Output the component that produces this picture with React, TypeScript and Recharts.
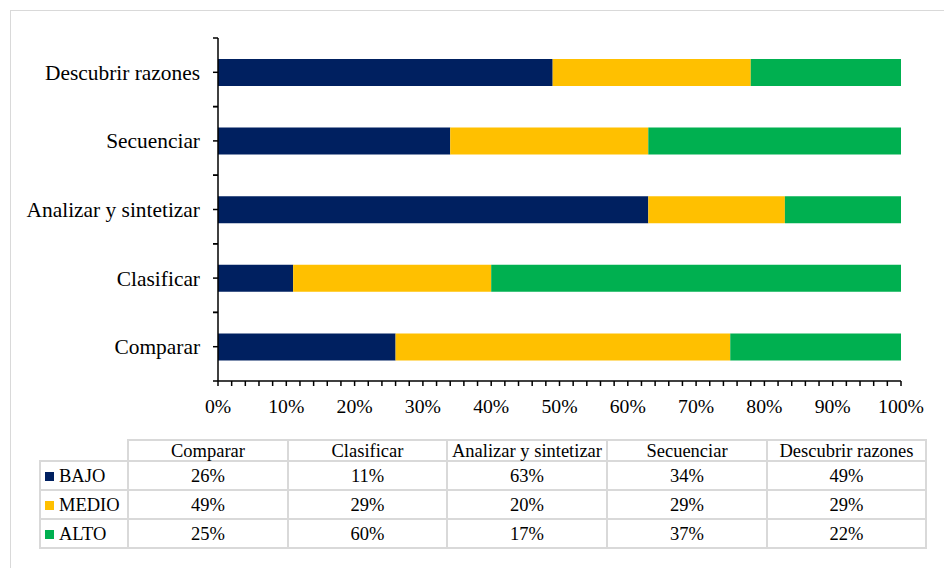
import React from "react";
import { BarChart, Bar, XAxis, YAxis } from "recharts";

const categories = ["Comparar", "Clasificar", "Analizar y sintetizar", "Secuenciar", "Descubrir razones"];
const bajo = [26, 11, 63, 34, 49];
const medio = [49, 29, 20, 29, 29];
const alto = [25, 60, 17, 37, 22];
const xTicks = [0, 2, 4, 6, 8, 10, 12, 14, 16, 18, 20, 22, 24, 26, 28, 30, 32, 34, 36, 38, 40, 42, 44, 46, 48, 50, 52, 54, 56, 58, 60, 62, 64, 66, 68, 70, 72, 74, 76, 78, 80, 82, 84, 86, 88, 90, 92, 94, 96, 98, 100];

const series = [
  { key: "BAJO", values: bajo, color: "#002060" },
  { key: "MEDIO", values: medio, color: "#FFC000" },
  { key: "ALTO", values: alto, color: "#00B050" },
];

const FONT = "'Liberation Serif', 'Times New Roman', serif";
const GRID = "#d9d9d9";
const Y_TICK = 5;
const Y_GAP = 13;

const chartData = categories.map((c, i) => ({
  name: c,
  BAJO: bajo[i],
  MEDIO: medio[i],
  ALTO: alto[i],
}));

const colWidths = [88, 160, 159, 160, 160, 159];

// category label plus the tick marks at both edges of its band
function CatTick(props: any) {
  const { x, y, payload } = props;
  const half = payload && payload.offset ? payload.offset : 34.3;
  const ax = x + Y_TICK + Y_GAP;
  return (
    <g>
      <line x1={ax - Y_TICK} x2={ax} y1={y - half} y2={y - half} stroke="#000" strokeWidth={1.5} />
      <line x1={ax - Y_TICK} x2={ax} y1={y + half} y2={y + half} stroke="#000" strokeWidth={1.5} />
      <text x={x} y={y} dy="0.355em" textAnchor="end" fill="#000" fontSize={21.4} fontFamily={FONT}>
        {payload.value}
      </text>
    </g>
  );
}

export default function App() {
  const cell: React.CSSProperties = {
    border: `2px solid ${GRID}`,
    padding: 0,
    textAlign: "center",
    lineHeight: "18px",
  };
  return (
    <div style={{ position: "absolute", left: 0, top: 0, width: 944, height: 568, background: "#fff", overflow: "hidden", fontFamily: FONT }}>
      <div style={{ position: "absolute", left: 10, top: 10, width: 960, height: 600, border: `1px solid ${GRID}` }} />
      <div style={{ position: "absolute", left: 0, top: 0 }}>
        <BarChart
          width={944}
          height={430}
          data={chartData}
          layout="vertical"
          margin={{ top: 38, right: 43, left: 0, bottom: 19 }}
          barSize={27}
        >
          <XAxis
            type="number"
            domain={[0, 100]}
            ticks={xTicks}
            interval={0}
            tickFormatter={(v) => (v % 10 === 0 ? `${v}%` : "")}
            height={30}
            tickSize={5}
            tickMargin={13}
            axisLine={{ stroke: "#000", strokeWidth: 1.5 }}
            tickLine={{ stroke: "#000", strokeWidth: 1.5 }}
            tick={{ fill: "#000", fontSize: 19.7, fontFamily: FONT }}
          />
          <YAxis
            type="category"
            dataKey="name"
            reversed
            width={218}
            tickSize={Y_TICK}
            tickMargin={Y_GAP}
            interval={0}
            axisLine={{ stroke: "#000", strokeWidth: 1.5 }}
            tickLine={{ stroke: "#000", strokeWidth: 1.5 }}
            tick={<CatTick />}
          />
          {series.map((s) => (
            <Bar key={s.key} dataKey={s.key} stackId="a" fill={s.color} isAnimationActive={false} />
          ))}
        </BarChart>
      </div>
      <table
        style={{
          position: "absolute",
          left: 39,
          top: 439,
          borderCollapse: "collapse",
          tableLayout: "fixed",
          width: 886,
          fontSize: 18.5,
          fontFamily: FONT,
          color: "#000",
        }}
      >
        <colgroup>
          {colWidths.map((w, i) => (
            <col key={i} style={{ width: w }} />
          ))}
        </colgroup>
        <tbody>
          <tr style={{ height: 21 }}>
            <td style={{ ...cell, border: "none", borderRight: `2px solid ${GRID}`, borderBottom: `2px solid ${GRID}` }} />
            {categories.map((c) => (
              <td key={c} style={{ ...cell, whiteSpace: "nowrap" }}>{c}</td>
            ))}
          </tr>
          {series.map((s) => (
            <tr key={s.key} style={{ height: 29 }}>
              <td style={{ ...cell, textAlign: "left", paddingLeft: 4, whiteSpace: "nowrap" }}>
                <span style={{ display: "inline-block", width: 9, height: 9, background: s.color, marginRight: 5, verticalAlign: "1px" }} />
                {s.key}
              </td>
              {s.values.map((v, i) => (
                <td key={i} style={cell}>{v}%</td>
              ))}
            </tr>
          ))}
        </tbody>
      </table>
    </div>
  );
}
